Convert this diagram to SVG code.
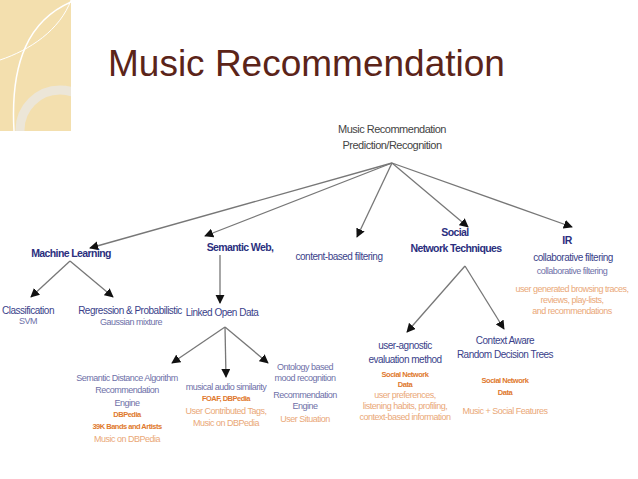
<svg xmlns="http://www.w3.org/2000/svg" width="638" height="479" viewBox="0 0 638 479">
<defs>
<marker id="ah" viewBox="0 0 10 10" refX="9" refY="5" markerWidth="7" markerHeight="7" orient="auto"><path d="M0,0 L10,5 L0,10 z" fill="#111"/></marker>
<clipPath id="cc"><rect x="0" y="0" width="71" height="131"/></clipPath>
</defs>
<style>
text{font-family:"Liberation Sans",Arial,sans-serif;text-anchor:middle;letter-spacing:-0.5px}
.h{fill:#2b2f7e;font-weight:bold;font-size:10.5px;letter-spacing:-0.6px}
.m{fill:#3a3f8a;font-size:10px}
.l{fill:#6e70a8;font-size:9px}
.o{fill:#e0792e;font-weight:bold;font-size:7.5px}
.p{fill:#eaa878;font-size:9px}
.r{fill:#444;font-size:11px}
.c line{stroke:#777;stroke-width:1.3;marker-end:url(#ah)}
</style>
<g id="deco" clip-path="url(#cc)">
<rect x="0" y="0" width="71" height="131" fill="#f3dfae"/>
<path d="M71,2 C30,20 10,60 14,131" fill="none" stroke="#fff" stroke-width="1.5"/>
<path d="M0,60 C30,50 60,30 71,0" fill="none" stroke="#fff" stroke-width="1"/>
<circle cx="60" cy="130" r="40" fill="none" stroke="#ece6d8" stroke-width="9"/>
</g>
<text x="108" y="76" style="text-anchor:start;font-size:37px;letter-spacing:0;fill:#5b2419">Music Recommendation</text>
<g class="c" id="connectors">
<line x1="392" y1="163" x2="90" y2="248"/>
<line x1="392" y1="163" x2="205" y2="236"/>
<line x1="392" y1="163" x2="357" y2="237"/>
<line x1="392" y1="163" x2="468" y2="227"/>
<line x1="392" y1="163" x2="572" y2="227"/>
<line x1="70" y1="261" x2="31" y2="297"/>
<line x1="70" y1="261" x2="113" y2="297"/>
<line x1="220" y1="255" x2="220" y2="303"/>
<line x1="225" y1="327" x2="172" y2="363"/>
<line x1="225" y1="327" x2="226" y2="377"/>
<line x1="225" y1="327" x2="268" y2="363"/>
<line x1="465" y1="266" x2="407" y2="332"/>
<line x1="465" y1="266" x2="504" y2="329"/>
</g>
<g id="root"><text class="r" x="392" y="133">Music Recommendation</text><text class="r" x="392" y="149">Prediction/Recognition</text></g>
<g id="ml"><text class="h" x="71" y="257">Machine Learning</text></g>
<g id="sw"><text class="h" x="240" y="251">Semantic Web,</text></g>
<g id="cbf"><text class="m" x="339" y="260">content-based filtering</text></g>
<g id="snt"><text class="h" x="455" y="236">Social</text><text class="h" x="456" y="252">Network Techniques</text></g>
<g id="ir"><text class="h" x="567" y="244">IR</text><text class="m" x="573" y="261">collaborative filtering</text><text class="l" x="572" y="274">collaborative filtering</text>
<text class="p" x="572" y="292">user generated browsing traces,</text><text class="p" x="572" y="303">reviews, play-lists,</text><text class="p" x="572" y="314">and recommendations</text></g>
<g id="cls"><text class="m" x="28" y="314">Classification</text><text class="l" x="28" y="324">SVM</text></g>
<g id="reg"><text class="m" x="130" y="314">Regression &amp; Probabilistic</text><text class="l" x="131" y="325">Gaussian mixture</text></g>
<g id="lod"><text class="m" x="222" y="316">Linked Open Data</text></g>
<g id="sda"><text class="l" x="127" y="381">Semantic Distance Algorithm</text><text class="l" x="127" y="393">Recommendation</text><text class="l" x="127" y="406">Engine</text>
<text class="o" x="127" y="417">DBPedia</text><text class="o" x="127" y="429">39K Bands and Artists</text><text class="p" x="127" y="442">Music on DBPedia</text></g>
<g id="mas"><text class="l" x="226" y="390">musical audio similarity</text><text class="o" x="226" y="401">FOAF, DBPedia</text><text class="p" x="226" y="414">User Contributed Tags,</text><text class="p" x="226" y="426">Music on DBPedia</text></g>
<g id="onto"><text class="l" x="305" y="370">Ontology based</text><text class="l" x="305" y="381">mood recognition</text><text class="l" x="305" y="398">Recommendation</text><text class="l" x="305" y="409">Engine</text><text class="p" x="305" y="422">User Situation</text></g>
<g id="ua"><text class="m" x="405" y="349">user-agnostic</text><text class="m" x="405" y="363">evaluation method</text>
<text class="o" x="405" y="377">Social Network</text><text class="o" x="405" y="387">Data</text><text class="p" x="405" y="398">user preferences,</text><text class="p" x="405" y="409">listening habits, profiling,</text><text class="p" x="405" y="420">context-based information</text></g>
<g id="ca"><text class="m" x="505" y="344">Context Aware</text><text class="m" x="505" y="358">Random Decision Trees</text>
<text class="o" x="505" y="383">Social Network</text><text class="o" x="505" y="395">Data</text><text class="p" x="505" y="414">Music + Social Features</text></g>
</svg>
